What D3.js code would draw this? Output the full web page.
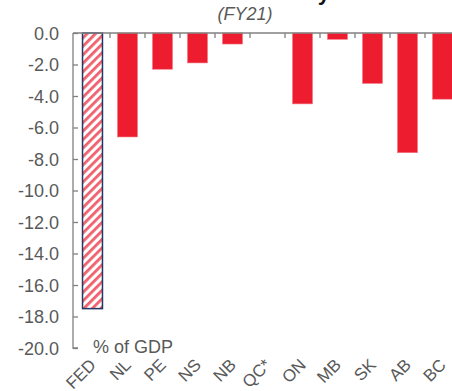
<!DOCTYPE html>
<html>
<head>
<meta charset="utf-8">
<script src="https://cdn.jsdelivr.net/npm/d3@7"></script>
<style>
  html, body { margin: 0; padding: 0; background: #fff; }
  svg { display: block; font-family: "Liberation Sans", Arial, sans-serif; }
</style>
</head>
<body>
<svg id="chart" width="452" height="391"></svg>
<script>
// Budget balance by jurisdiction, % of GDP (FY21)
const categories = ["FED", "NL", "PE", "NS", "NB", "QC*", "ON", "MB", "SK", "AB", "BC"];
const balances   = [-17.5, -6.6, -2.3, -1.9, -0.7, 0, -4.5, -0.4, -3.2, -7.6, -4.2];
const yTicks     = [0, -2, -4, -6, -8, -10, -12, -14, -16, -18, -20];

const svg = d3.select("#chart");
const gray = "#808080";
const textGray = "#595959";
const red = "#ED1C2E";

const x = d3.scaleBand().domain(categories).range([75, 460]).paddingInner(0.43).paddingOuter(0.215);
const y = d3.scaleLinear().domain([0, -20]).range([33, 348]);

// hatch pattern for the federal bar
const defs = svg.append("defs");
const pat = defs.append("pattern")
  .attr("id", "hatch").attr("patternUnits", "userSpaceOnUse")
  .attr("width", 6).attr("height", 6)
  .attr("patternTransform", "rotate(45)");
pat.append("rect").attr("width", 6).attr("height", 6).attr("fill", "#fff");
pat.append("rect").attr("width", 2.8).attr("height", 6).attr("fill", "#F0606D");

// title sits above the top edge; only its descender reaches into view
svg.append("text")
  .attr("x", 330).attr("y", 0)
  .attr("text-anchor", "end")
  .attr("font-size", 22).attr("font-weight", "bold").attr("fill", "#111")
  .text("Deficit Summary");

svg.append("text")
  .attr("x", 245).attr("y", 20)
  .attr("text-anchor", "middle")
  .attr("font-size", 18).attr("font-style", "italic").attr("fill", textGray)
  .text("(FY21)");

// bars
svg.append("g").selectAll("rect")
  .data(categories.map((c, i) => ({ c, v: balances[i] })).filter(d => d.v !== 0))
  .join("rect")
  .attr("x", d => x(d.c))
  .attr("y", y(0))
  .attr("width", x.bandwidth())
  .attr("height", d => y(d.v) - y(0))
  .attr("fill", d => d.c === "FED" ? "url(#hatch)" : red)
  .attr("stroke", d => d.c === "FED" ? "#1F3864" : "#F2737E")
  .attr("stroke-width", d => d.c === "FED" ? 1.5 : 0.6);

// y axis (ticks pointing inward)
const yAxis = d3.axisRight(y).tickValues(yTicks).tickSize(5).tickFormat("");
const gy = svg.append("g").attr("transform", "translate(73,0)").call(yAxis);
gy.select(".domain").attr("stroke", gray).attr("stroke-width", 1.3).attr("d", "M5,348H0V33");
gy.selectAll(".tick line").attr("stroke", gray).attr("stroke-width", 1.3);

svg.append("g").selectAll("text")
  .data(yTicks)
  .join("text")
  .attr("x", 59).attr("y", d => y(d) + 6.5)
  .attr("text-anchor", "end")
  .attr("font-size", 18).attr("fill", textGray)
  .text(d => d3.format(".1f")(d).replace("−", "-"));

// x axis line at zero, tick marks between categories
const bounds = categories.slice(1).map(c => x(c) - x.step() * x.paddingInner() / 2);
svg.append("line")
  .attr("x1", 73).attr("x2", 452).attr("y1", y(0)).attr("y2", y(0))
  .attr("stroke", gray).attr("stroke-width", 1.3);
svg.append("g").selectAll("line")
  .data(bounds)
  .join("line")
  .attr("x1", d => d).attr("x2", d => d)
  .attr("y1", y(0)).attr("y2", y(0) + 5)
  .attr("stroke", gray).attr("stroke-width", 1.3);

// rotated category labels
svg.append("g").selectAll("text")
  .data(categories)
  .join("text")
  .attr("transform", c => `translate(${x(c) + x.bandwidth() / 2 + 4.5},366) rotate(-45)`)
  .attr("text-anchor", "end")
  .attr("font-size", 17).attr("fill", textGray)
  .text(c => c);

svg.append("text")
  .attr("x", 93).attr("y", 353)
  .attr("font-size", 18).attr("fill", textGray)
  .text("% of GDP");
</script>
</body>
</html>
